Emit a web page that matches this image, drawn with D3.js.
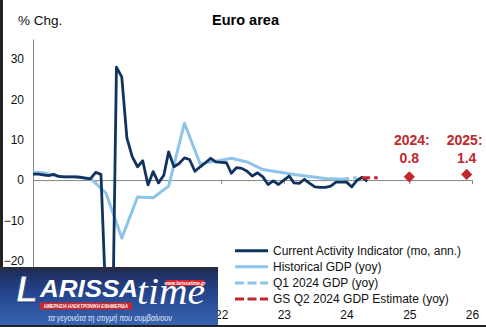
<!DOCTYPE html>
<html><head><meta charset="utf-8">
<script src="https://cdn.jsdelivr.net/npm/d3@7"></script>
<style>body{margin:0;background:#fff} svg{display:block}</style>
</head><body><svg id="c" width="486" height="327"></svg>
<script>
// ---------------- DATA ----------------
const caiStart = "2019-01";
const caiValues = [1.5,1.5,1.3,1.1,1.4,0.9,0.8,0.8,0.8,0.7,0.5,0.3,
  1.9,1.4,-31,-60,28.0,25.6,10.4,5.8,3.3,4.8,-1.2,2.1,
  -0.7,1.2,7.0,3.3,4.1,5.5,5.1,2.2,3.3,4.3,5.4,4.5,
  4.4,4.3,1.7,3.1,2.9,2.2,1.0,1.8,0.8,-1.1,-0.2,-1.1,
  0.0,1.0,-0.7,-0.8,0.2,-0.8,-1.7,-1.8,-1.8,-1.5,-0.5,-0.5,
  -0.5,-1.7,-0.1,0.7,-0.3];
const gdpDates = ["2018-12","2019-03","2019-06","2019-09","2019-12","2020-03","2020-06","2020-09","2020-12",
  "2021-03","2021-06","2021-09","2021-12","2022-03","2022-06","2022-09","2022-12","2023-03","2023-06","2023-09","2023-12"];
const gdpValues = [2.0,1.8,0.9,0.8,0.4,-3.2,-14.4,-4.2,-4.4,-1.5,14.1,4.0,4.7,5.4,4.5,2.6,2.0,1.4,0.9,0.4,0.2];
const q1Dates = ["2023-12","2024-03"];
const q1Values = [0.2,0.6];
const gsDates = ["2024-04","2024-07"];
const gsValues = [0.6,0.6];
const annualLabels = ["2024:","2025:"];
const annualValues = [0.8,1.4];
const annualDates = ["2025-01","2025-12"];
const yTicks = [-20,-10,0,10,20,30];
const xTickYears = [2019,2020,2021,2022,2023,2024,2025,2026];
const xLabelYears = [2022,2023,2024,2025,2026];
const xTickLabels = ["22","23","24","25","26"];
const legendLabels = ["Current Activity Indicator (mo, ann.)","Historical GDP (yoy)","Q1 2024 GDP (yoy)","GS Q2 2024 GDP Estimate (yoy)"];

// ---------------- SETUP ----------------
const FONT = "'Liberation Sans', Arial, sans-serif";
const DARK = "#11345f", LIGHT = "#8ec4ea", RED = "#c0282d", GRID = "#868686";
const svg = d3.select("#c").style("font-family", FONT);
const pm = d3.timeParse("%Y-%m");
const x = d3.scaleTime().domain([new Date(2019,0,1), new Date(2026,0,1)]).range([33, 472]);
const y = d3.scaleLinear().domain([-30, 35]).range([301, 39]);

svg.append("rect").attr("width",486).attr("height",327).attr("fill","#fff");
const defs = svg.append("defs");
defs.append("clipPath").attr("id","plot").append("rect").attr("x",33).attr("y",39).attr("width",439).attr("height",262);

// y axis
const yAx = svg.append("g").attr("transform","translate(33,0)")
  .call(d3.axisLeft(y).tickValues(yTicks).tickSize(0).tickPadding(9).tickFormat(d3.format("d")));
yAx.select(".domain").attr("stroke",GRID);
yAx.selectAll("text").attr("font-size",12).attr("fill","#111").attr("font-family",FONT);

// zero-line axis with year ticks
const xAx = svg.append("g").attr("transform",`translate(0,${y(0)})`)
  .call(d3.axisBottom(x).tickValues(xTickYears.map(v=>new Date(v,0,1))).tickSize(4).tickSizeOuter(0).tickFormat(""));
xAx.select(".domain").attr("stroke",GRID);
xAx.selectAll(".tick line").attr("stroke",GRID);

// bottom labels
const xLab = svg.append("g").attr("transform","translate(0,301)")
  .call(d3.axisBottom(x).tickValues(xLabelYears.map(v=>new Date(v,0,1))).tickSize(0)
    .tickFormat((d,i)=>xTickLabels[i]));
xLab.select(".domain").remove();
xLab.selectAll("text").attr("y",18).attr("dy",0).attr("font-size",12).attr("fill","#111").attr("font-family",FONT);

// lines
const plot = svg.append("g").attr("clip-path","url(#plot)");
const line = d3.line().x(d=>x(d[0])).y(d=>y(d[1]));
const caiData = caiValues.map((v,i)=>[d3.timeMonth.offset(pm(caiStart), i), v]);
const gdpData = gdpDates.map((d,i)=>[pm(d), gdpValues[i]]);
const q1Data = q1Dates.map((d,i)=>[pm(d), q1Values[i]]);
const gsData = gsDates.map((d,i)=>[pm(d), gsValues[i]]);

plot.append("path").datum(gdpData).attr("d",line).attr("fill","none").attr("stroke",LIGHT).attr("stroke-width",3).attr("stroke-linejoin","round");
plot.append("path").datum(q1Data).attr("d",line).attr("fill","none").attr("stroke",LIGHT).attr("stroke-width",3).attr("stroke-dasharray","8,4");
plot.append("path").datum(caiData).attr("d",line).attr("fill","none").attr("stroke",DARK).attr("stroke-width",2.8).attr("stroke-linejoin","round");
plot.append("path").datum(gsData).attr("d",line).attr("fill","none").attr("stroke",RED).attr("stroke-width",3).attr("stroke-dasharray","8,4");

// annual diamonds + labels
const ann = svg.append("g");
annualValues.forEach((v,i)=>{
  const cx = x(pm(annualDates[i])), cy = y(v);
  ann.append("path").attr("d", d3.symbol(d3.symbolSquare, 62)()).attr("transform",`translate(${cx},${cy}) rotate(45)`).attr("fill",RED);
  ann.append("text").attr("x",cx+(i===0?2.5:-2)).attr("y",145).attr("text-anchor","middle").attr("font-size",14).attr("font-weight","bold")
    .attr("font-family","'Liberation Sans Narrow','Arial Narrow',"+FONT).attr("fill",RED).text(annualLabels[i]);
  ann.append("text").attr("x",cx).attr("y",163).attr("text-anchor","middle").attr("font-size",14).attr("font-weight","bold")
    .attr("font-family","'Liberation Sans Narrow','Arial Narrow',"+FONT).attr("fill",RED).text(d3.format(".1f")(v));
});

// titles
svg.append("text").attr("x",18).attr("y",24.5).attr("font-size",13.5).attr("fill","#111").text("% Chg.");
svg.append("text").attr("x",245.5).attr("y",24.5).attr("text-anchor","middle").attr("font-size",14.5).attr("font-weight","bold").attr("fill","#000").text("Euro area");

// legend
const legStyles = [{c:DARK,d:null},{c:LIGHT,d:null},{c:LIGHT,d:"9,3.5"},{c:RED,d:"9,3.5"}];
const leg = svg.append("g");
legendLabels.forEach((t,i)=>{
  const ly = 250.7 + i*16.1;
  leg.append("line").attr("x1",235).attr("x2",268).attr("y1",ly).attr("y2",ly)
    .attr("stroke",legStyles[i].c).attr("stroke-width",3).attr("stroke-dasharray",legStyles[i].d);
  leg.append("text").attr("x",273).attr("y",ly+4.3).attr("font-size",12).attr("fill","#111").text(t);
});

// frame
svg.append("rect").attr("x",0).attr("y",0).attr("width",3).attr("height",327).attr("fill","#222");

// ---------------- LOGO OVERLAY ----------------
const lg = defs.append("linearGradient").attr("id","lg").attr("x1",0).attr("y1",0).attr("x2",0).attr("y2",1);
[[0,"#2b2c33"],[0.08,"#1f2e5f"],[0.45,"#25468f"],[1,"#3a66b3"]].forEach(s=>lg.append("stop").attr("offset",s[0]).attr("stop-color",s[1]));
const logo = svg.append("g");
logo.append("rect").attr("x",0).attr("y",267).attr("width",218).attr("height",60).attr("fill","url(#lg)");
logo.append("text").attr("x",16).attr("y",302).attr("font-size",36).attr("font-weight","bold").attr("font-style","italic")
  .attr("fill","#fff").attr("stroke","#1d3c82").attr("stroke-width",0.8).attr("font-family",FONT).text("L");
logo.append("text").attr("x",40).attr("y",297).attr("font-size",24).attr("font-weight","bold").attr("font-style","italic")
  .attr("fill","#fff").attr("font-family",FONT).attr("textLength",98).attr("lengthAdjust","spacingAndGlyphs").text("ARISSA");
logo.append("text").attr("x",137).attr("y",304).attr("font-size",38).attr("font-style","italic")
  .attr("fill","#fff").attr("font-family","'Liberation Serif','DejaVu Serif',serif").attr("textLength",68).attr("lengthAdjust","spacingAndGlyphs").text("time");
logo.append("rect").attr("x",166).attr("y",280).attr("width",38).attr("height",6).attr("fill","#d0262b");
logo.append("text").attr("x",185).attr("y",284.6).attr("text-anchor","middle").attr("font-size",4.5).attr("font-weight","bold").attr("font-style","italic")
  .attr("fill","#fff").attr("font-family",FONT).text("www.larissatime.gr");
logo.append("rect").attr("x",40).attr("y",302.5).attr("width",92).attr("height",7).attr("fill","#d0262b");
logo.append("text").attr("x",86).attr("y",308).attr("text-anchor","middle").attr("font-size",5.2).attr("font-weight","bold").attr("font-style","italic")
  .attr("fill","#fff").attr("font-family",FONT).attr("textLength",84).attr("lengthAdjust","spacingAndGlyphs").text("ΗΜΕΡΗΣΙΑ ΗΛΕΚΤΡΟΝΙΚΗ ΕΦΗΜΕΡΙΔΑ");
logo.append("text").attr("x",110).attr("y",321).attr("text-anchor","middle").attr("font-size",8.5).attr("font-style","italic")
  .attr("fill","#e4ebf7").attr("font-family",FONT).attr("textLength",124).attr("lengthAdjust","spacingAndGlyphs").text("τα γεγονότα τη στιγμή που συμβαίνουν");

svg.append("rect").attr("x",0).attr("y",325).attr("width",486).attr("height",2).attr("fill","#222");
</script></body></html>
